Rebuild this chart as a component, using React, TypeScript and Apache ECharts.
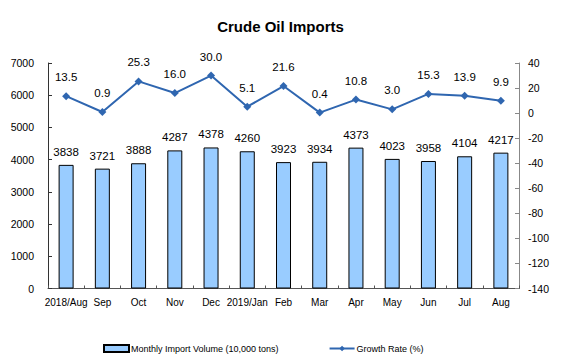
import React, { useEffect, useRef } from "react";
import * as echarts from "echarts";

const categories = ["2018/Aug", "Sep", "Oct", "Nov", "Dec", "2019/Jan", "Feb", "Mar", "Apr", "May", "Jun", "Jul", "Aug"];
const importVolume = [3838, 3721, 3888, 4287, 4378, 4260, 3923, 3934, 4373, 4023, 3958, 4104, 4217];
const growthRate = [13.5, 0.9, 25.3, 16.0, 30.0, 5.1, 21.6, 0.4, 10.8, 3.0, 15.3, 13.9, 9.9];

const SANS = "'Liberation Sans', Arial, sans-serif";

export default function App() {
  const ref = useRef<HTMLDivElement>(null);
  useEffect(() => {
    if (!ref.current) return;
    const chart = echarts.init(ref.current, null, { renderer: "svg" });
    chart.setOption({
      animation: false,
      backgroundColor: "#ffffff",
      title: {
        text: "Crude Oil Imports",
        left: "center",
        top: 14,
        textStyle: { fontFamily: SANS, fontSize: 15, fontWeight: "bold", color: "#000" },
      },
      grid: { left: 48, right: 42, top: 63, bottom: 68.5, containLabel: false },
      legend: {
        left: 103,
        top: 344,
        padding: 0,
        itemWidth: 25,
        itemHeight: 7,
        itemGap: 50,
        textStyle: { fontFamily: SANS, fontSize: 9, color: "#000", padding: [0, 0, 0, -3] },
        data: [
          { name: "Monthly Import Volume (10,000 tons)", icon: "rect" },
          { name: "Growth Rate (%)" },
        ],
      },
      xAxis: {
        type: "category",
        data: categories,
        axisLine: { lineStyle: { color: "#555", width: 1 } },
        axisTick: { show: true, inside: true, length: 3, alignWithLabel: false, lineStyle: { color: "#555" } },
        axisLabel: { fontFamily: SANS, fontSize: 10, color: "#000", margin: 9, interval: 0 },
      },
      yAxis: [
        {
          type: "value",
          min: 0,
          max: 7000,
          interval: 1000,
          splitLine: { show: false },
          axisLine: { show: true, lineStyle: { color: "#333" } },
          axisTick: { show: true, inside: true, length: 4, lineStyle: { color: "#333" } },
          axisLabel: { fontFamily: SANS, fontSize: 10.5, color: "#000", margin: 14, formatter: (v: number) => String(v) },
        },
        {
          type: "value",
          min: -140,
          max: 40,
          interval: 20,
          splitLine: { show: false },
          axisLine: { show: true, lineStyle: { color: "#888" } },
          axisTick: { show: true, inside: true, length: 4, lineStyle: { color: "#888" } },
          axisLabel: { fontFamily: SANS, fontSize: 10.5, color: "#000", margin: 9, formatter: (v: number) => String(v) },
        },
      ],
      series: [
        {
          name: "Monthly Import Volume (10,000 tons)",
          type: "bar",
          data: importVolume,
          barWidth: 15,
          itemStyle: { color: "#99CCFF", borderColor: "#000", borderWidth: 1 },
          label: {
            show: true,
            position: "top",
            distance: 7,
            fontFamily: SANS,
            fontSize: 11.5,
            color: "#000",
          },
        },
        {
          name: "Growth Rate (%)",
          type: "line",
          yAxisIndex: 1,
          data: growthRate,
          symbol: "diamond",
          symbolSize: 8,
          lineStyle: { color: "#2F66B0", width: 2 },
          itemStyle: { color: "#2F66B0" },
          label: {
            show: true,
            position: "top",
            distance: 9,
            fontFamily: SANS,
            fontSize: 11.5,
            color: "#000",
            formatter: (p: any) => Number(p.value).toFixed(1),
          },
        },
      ],
    });
    return () => chart.dispose();
  }, []);
  return <div ref={ref} style={{ width: 561, height: 357, position: "absolute", left: 0, top: 0 }} />;
}
